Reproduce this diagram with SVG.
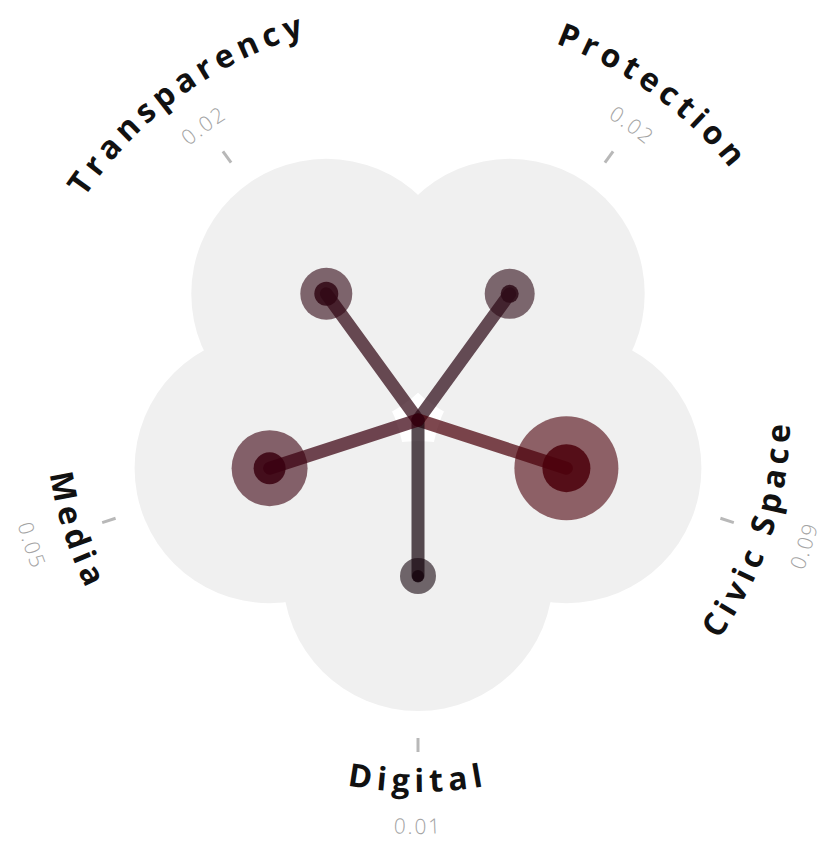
<svg xmlns="http://www.w3.org/2000/svg" xmlns:xlink="http://www.w3.org/1999/xlink" width="828" height="850" viewBox="0 0 828 850">
  <style>
    .petal { fill: #f0f0f0; }
    .spoke { stroke-width: 13; stroke-linecap: round; stroke-opacity: 0.72; fill: none; }
    .outer { fill-opacity: 0.6; }
    .inner { fill-opacity: 0.85; }
    .tick { stroke: #b8b8b8; stroke-width: 3; }
    .label { font-family: "Open Sans", "DejaVu Sans", sans-serif; font-weight: 700; font-size: 32px; letter-spacing: 5.5px; fill: #111111; }
    .value { font-family: "Open Sans", "DejaVu Sans", sans-serif; font-weight: 300; font-size: 21px; letter-spacing: 2px; fill: #a3a3a3; }
  </style>
  <defs>
    <path id="arcLabelT" d="M 32.5 530.5 A 401 401 0 0 1 642.2 87.6"/>
    <path id="arcValueT" d="M 74.8 518.4 A 357 357 0 0 1 617.6 124.0"/>
    <path id="arcLabelP" d="M 193.8 87.6 A 401 401 0 0 1 803.5 530.5"/>
    <path id="arcValueP" d="M 218.4 124.0 A 357 357 0 0 1 761.2 518.4"/>
    <path id="arcLabelC" d="M 431.0 791.8 A 372 372 0 0 0 647.0 126.9"/>
    <path id="arcValueC" d="M 432.4 833.7 A 414 414 0 0 0 672.9 93.8"/>
    <path id="arcLabelD" d="M 68.4 547.2 A 372 372 0 0 0 767.6 547.2"/>
    <path id="arcValueD" d="M 29.0 561.6 A 414 414 0 0 0 807.0 561.6"/>
    <path id="arcLabelM" d="M 189.0 126.9 A 372 372 0 0 0 405.0 791.8"/>
    <path id="arcValueM" d="M 163.1 93.8 A 414 414 0 0 0 403.6 833.7"/>
  </defs>

  <g id="petals">
    <circle class="petal" cx="326.3" cy="293.8" r="135"/>
    <circle class="petal" cx="509.7" cy="293.8" r="135"/>
    <circle class="petal" cx="566.4" cy="468.2" r="135"/>
    <circle class="petal" cx="418" cy="576" r="135"/>
    <circle class="petal" cx="269.6" cy="468.2" r="135"/>
  </g>

  <g id="connectors">
    <line class="spoke" x1="418" y1="420" x2="326.3" y2="293.8" stroke="#300714"/>
    <line class="spoke" x1="418" y1="420" x2="509.7" y2="293.8" stroke="#2d0a16"/>
    <line class="spoke" x1="418" y1="420" x2="566.4" y2="468.2" stroke="#4b000a"/>
    <line class="spoke" x1="418" y1="420" x2="418" y2="576" stroke="#17070f"/>
    <line class="spoke" x1="418" y1="420" x2="269.6" y2="468.2" stroke="#3a000f"/>
  </g>

  <g id="node-transparency">
    <circle class="outer" cx="326.3" cy="293.8" r="26" fill="#300714"/>
    <circle class="inner" cx="326.3" cy="293.8" r="12" fill="#300714"/>
    <line class="tick" x1="231.1" y1="162.7" x2="222.9" y2="151.4"/>
    <text class="value"><textPath xlink:href="#arcValueT" href="#arcValueT" startOffset="50%" text-anchor="middle">0.02</textPath></text>
    <text class="label"><textPath xlink:href="#arcLabelT" href="#arcLabelT" startOffset="50%" text-anchor="middle">Transparency</textPath></text>
  </g>

  <g id="node-protection">
    <circle class="outer" cx="509.7" cy="293.8" r="25" fill="#2d0a16"/>
    <circle class="inner" cx="509.7" cy="293.8" r="9" fill="#2d0a16"/>
    <line class="tick" x1="604.9" y1="162.7" x2="613.1" y2="151.4"/>
    <text class="value"><textPath xlink:href="#arcValueP" href="#arcValueP" startOffset="50%" text-anchor="middle">0.02</textPath></text>
    <text class="label"><textPath xlink:href="#arcLabelP" href="#arcLabelP" startOffset="50%" text-anchor="middle">Protection</textPath></text>
  </g>

  <g id="node-civic-space">
    <circle class="outer" cx="566.4" cy="468.2" r="52" fill="#4b000a"/>
    <circle class="inner" cx="566.4" cy="468.2" r="24" fill="#4b000a"/>
    <line class="tick" x1="720.4" y1="518.3" x2="733.8" y2="522.6"/>
    <text class="label"><textPath xlink:href="#arcLabelC" href="#arcLabelC" startOffset="50%" text-anchor="middle">Civic Space</textPath></text>
    <text class="value"><textPath xlink:href="#arcValueC" href="#arcValueC" startOffset="50%" text-anchor="middle">0.09</textPath></text>
  </g>

  <g id="node-digital">
    <circle class="outer" cx="418" cy="576" r="18" fill="#17070f"/>
    <circle class="inner" cx="418" cy="576" r="6" fill="#17070f"/>
    <line class="tick" x1="418" y1="738" x2="418" y2="752"/>
    <text class="label"><textPath xlink:href="#arcLabelD" href="#arcLabelD" startOffset="50%" text-anchor="middle">Digital</textPath></text>
    <text class="value"><textPath xlink:href="#arcValueD" href="#arcValueD" startOffset="50%" text-anchor="middle">0.01</textPath></text>
  </g>

  <g id="node-media">
    <circle class="outer" cx="269.6" cy="468.2" r="38" fill="#3a000f"/>
    <circle class="inner" cx="269.6" cy="468.2" r="16" fill="#3a000f"/>
    <line class="tick" x1="115.6" y1="518.3" x2="102.2" y2="522.6"/>
    <text class="label"><textPath xlink:href="#arcLabelM" href="#arcLabelM" startOffset="50%" text-anchor="middle">Media</textPath></text>
    <text class="value"><textPath xlink:href="#arcValueM" href="#arcValueM" startOffset="50%" text-anchor="middle">0.05</textPath></text>
  </g>
</svg>
